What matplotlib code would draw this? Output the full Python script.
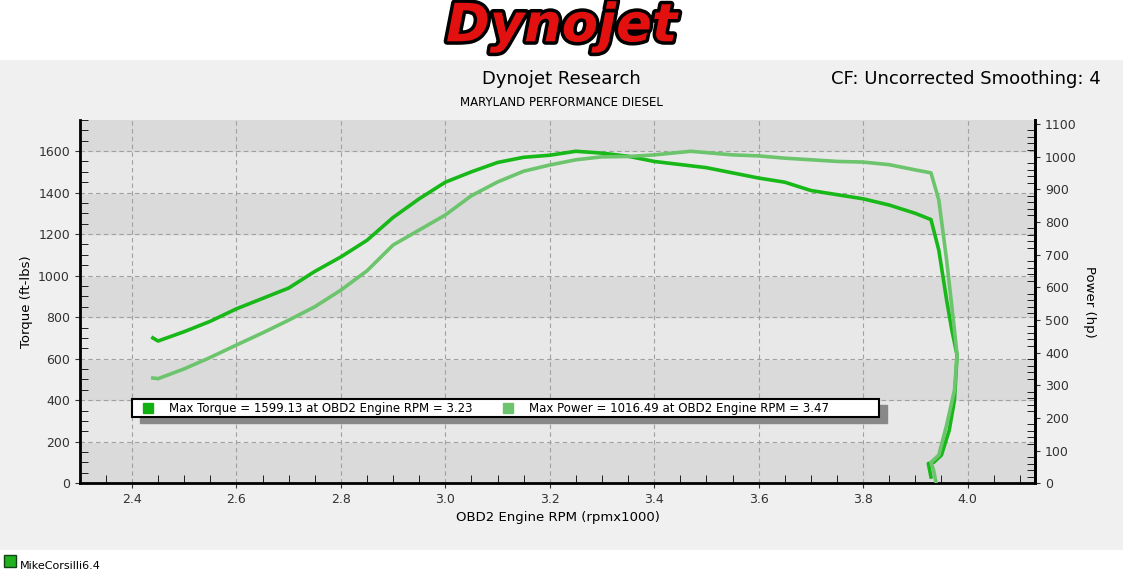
import matplotlib
matplotlib.use("Agg")
import matplotlib.pyplot as plt
import matplotlib.patheffects as pe
from matplotlib.ticker import MultipleLocator
import numpy as np

rpm_tq = [2.44, 2.45, 2.5, 2.55, 2.6, 2.65, 2.7, 2.75, 2.8, 2.85, 2.9, 2.95, 3.0, 3.05, 3.1, 3.15, 3.2, 3.25, 3.3, 3.35, 3.4, 3.45, 3.5, 3.55, 3.6, 3.65, 3.7, 3.75, 3.8, 3.85, 3.9, 3.93, 3.945, 3.96, 3.97, 3.98, 3.975, 3.965, 3.95, 3.935, 3.925, 3.93]
torque = [700, 685, 730, 780, 840, 890, 940, 1020, 1090, 1170, 1280, 1370, 1450, 1500, 1545, 1570, 1580, 1599, 1590, 1575, 1550, 1535, 1520, 1495, 1470, 1450, 1410, 1390, 1370, 1340, 1300, 1270, 1123, 882, 737, 617, 400, 255, 135, 100, 95, 30]
rpm_hp = [2.44, 2.45, 2.5, 2.55, 2.6, 2.65, 2.7, 2.75, 2.8, 2.85, 2.9, 2.95, 3.0, 3.05, 3.1, 3.15, 3.2, 3.25, 3.3, 3.35, 3.4, 3.47, 3.55, 3.6, 3.65, 3.7, 3.75, 3.8, 3.85, 3.9, 3.93, 3.945, 3.96, 3.975, 3.98, 3.975, 3.96, 3.945, 3.93, 3.935, 3.94]
power = [322, 320, 350, 385, 423, 460, 499, 540, 591, 650, 729, 775, 821, 880, 922, 955, 974, 990, 999, 1000, 1005, 1016, 1005, 1002, 995, 990, 985, 983, 975, 959, 950, 867, 683, 469, 392, 285, 178, 86, 64, 40, 0]

fig = plt.figure(figsize=(11.23, 5.85), dpi=100)
fig.patch.set_facecolor("#f0f0f0")
fig.patches.append(plt.Rectangle((0, 0.9), 1, 0.1, transform=fig.transFigure, color="white", zorder=0))
fig.patches.append(plt.Rectangle((0, 0), 1, 0.06, transform=fig.transFigure, color="white", zorder=0))
fig.text(0.5, 0.955, "Dynojet", ha="center", va="center", fontsize=38, fontweight="bold",
         style="italic", color="#e31010",
         path_effects=[pe.withStroke(linewidth=5, foreground="black")])
fig.text(0.5, 0.857, "Dynojet Research", ha="center", fontsize=13)
fig.text(0.5, 0.818, "MARYLAND PERFORMANCE DIESEL", ha="center", fontsize=8.5)
fig.text(0.98, 0.857, "CF: Uncorrected Smoothing: 4", ha="right", fontsize=13)

ax = fig.add_axes([0.071, 0.174, 0.851, 0.621])
ax.set_xlim(2.3, 4.13)
ax.set_ylim(0, 1750)
for i, y0 in enumerate(range(0, 1800, 200)):
    ax.axhspan(y0, y0 + 200, color="#dadada" if i % 2 == 0 else "#e8e8e8", zorder=0)
ax.grid(True, linestyle=(0, (4, 3)), color="#a0a0a0", linewidth=0.8)
ax.set_axisbelow(True)
ax.plot(rpm_tq, torque, color="#18b818", linewidth=2.6, zorder=3)
ax.set_xticks([2.4, 2.6, 2.8, 3.0, 3.2, 3.4, 3.6, 3.8, 4.0])
ax.set_xticklabels(["2.4", "2.6", "2.8", "3.0", "3.2", "3.4", "3.6", "3.8", "4.0"])
ax.xaxis.set_minor_locator(MultipleLocator(0.05))
ax.set_yticks(range(0, 1700, 200))
ax.yaxis.set_minor_locator(MultipleLocator(50))
ax.tick_params(labelsize=9, colors="#333333")
ax.tick_params(which="minor", length=6, direction="in")
ax.set_xlabel("OBD2 Engine RPM (rpmx1000)", fontsize=9.5)
ax.set_ylabel("Torque (ft-lbs)", fontsize=9.5)
ax.spines["top"].set_visible(False)
for s in ["left", "bottom", "right"]:
    ax.spines[s].set_linewidth(2)

ax2 = ax.twinx()
ax2.set_ylim(0, 1112)
ax2.plot(rpm_hp, power, color="#6cc46c", linewidth=2.6, zorder=3)
ax2.set_yticks(range(0, 1101, 100))
ax2.yaxis.set_minor_locator(MultipleLocator(20))
ax2.tick_params(labelsize=9, colors="#333333")
ax2.tick_params(which="minor", length=6, direction="in")
ax2.set_ylabel("Power (hp)", fontsize=9.5, rotation=270, labelpad=14)
ax2.spines["top"].set_visible(False)
ax2.spines["right"].set_linewidth(2)

# max legend box
lx0, lx1, ly = 2.4, 3.83, 400
ax.add_patch(plt.Rectangle((lx0 + 0.015, ly - 110), lx1 - lx0, 85, color="#888888", zorder=4))
ax.add_patch(plt.Rectangle((lx0, ly - 80), lx1 - lx0, 85, facecolor="white", edgecolor="black", lw=1.5, zorder=5))
ax.plot([2.43], [ly - 38], "s", color="#10b010", ms=7, zorder=6)
ax.text(2.47, ly - 38, "Max Torque = 1599.13 at OBD2 Engine RPM = 3.23", va="center", fontsize=8.5, zorder=6)
ax.plot([3.12], [ly - 38], "s", color="#6cc46c", ms=7, zorder=6)
ax.text(3.16, ly - 38, "Max Power = 1016.49 at OBD2 Engine RPM = 3.47", va="center", fontsize=8.5, zorder=6)

fig.patches.append(plt.Rectangle((0.004, 0.03), 0.01, 0.022, transform=fig.transFigure,
                                 facecolor="#20b020", edgecolor="#114411", zorder=5))
fig.text(0.018, 0.028, "MikeCorsilli6.4", fontsize=8)

fig.savefig("out.png", dpi=100)
